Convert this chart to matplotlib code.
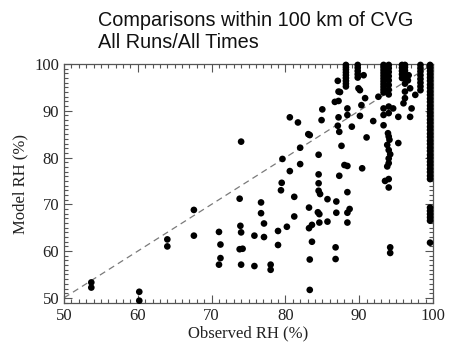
import matplotlib
matplotlib.use("Agg")
import matplotlib.pyplot as plt
from matplotlib.ticker import MultipleLocator

# Observed RH (%) and Model RH (%) comparison points
obs_scatter = [53.7, 53.7, 60.2, 60.2, 64.0, 64.0, 67.6, 67.6,
               71.0, 71.2, 71.2, 71.0, 73.8, 73.9, 74.0, 73.8, 74.2, 74.0, 74.0,
               75.8, 75.8, 76.7, 76.7, 77.1, 77.1, 78.0, 78.0, 79.0, 79.0,
               79.5, 79.4, 79.6, 80.2, 80.6, 80.6, 81.2, 81.2, 81.7, 82.0, 82.0,
               83.1, 83.3, 83.2, 83.2, 83.6, 83.6, 83.3, 83.3,
               84.4, 84.6, 84.6, 84.5, 84.5, 84.5, 84.5, 84.7, 84.9, 85.0,
               85.7, 85.7, 86.7, 87.2, 87.2, 87.4, 87.1, 87.2, 87.1, 87.3,
               86.9, 86.9, 86.8, 86.8, 87.6, 87.3, 88.0, 88.4, 88.4, 88.4, 89.0,
               88.4, 88.4, 88.7, 88.4,
               90.6, 89.9, 90.1, 90.8, 90.3, 90.1, 90.4, 91.0, 91.9, 92.6,
               93.3, 93.3, 93.3, 94.0, 94.0, 94.6, 95.3,
               93.9, 94.0, 94.1, 93.8, 94.0, 94.2, 94.0, 94.0, 93.8,
               95.3, 93.5, 94.0, 94.0, 94.2, 94.2,
               96.2, 96.2, 96.0, 96.9, 97.1, 96.9, 97.6, 96.7, 96.6]
mod_scatter = [53.3, 52.2, 51.3, 49.4, 62.5, 61.0, 68.8, 63.3,
               64.1, 61.4, 58.5, 57.1, 71.2, 65.4, 64.0, 60.4, 60.5, 57.1, 83.4,
               63.3, 56.8, 70.4, 68.1, 65.9, 63.0, 57.1, 56.0, 64.3, 61.3,
               74.6, 73.0, 79.7, 65.2, 88.6, 77.1, 71.6, 67.4, 87.5, 82.1, 78.6,
               85.0, 84.8, 69.3, 64.9, 65.6, 62.0, 58.2, 51.7,
               68.3, 67.9, 66.1, 80.6, 76.4, 74.5, 72.9, 72.2, 88.0, 90.3,
               71.1, 66.3, 91.9, 92.1, 94.1, 94.0, 96.4, 88.6, 86.8, 85.5,
               70.6, 68.2, 60.8, 58.3, 82.5, 76.1, 78.4, 78.2, 90.5, 89.1, 86.6,
               72.6, 68.2, 69.0, 66.1,
               97.6, 94.8, 94.4, 92.7, 91.2, 88.9, 77.7, 84.3, 87.8, 93.0,
               90.5, 89.1, 86.9, 90.9, 89.5, 90.5, 88.7,
               85.2, 84.5, 83.8, 82.7, 81.6, 80.7, 79.8, 78.8, 78.1,
               83.1, 75.0, 75.4, 73.6, 60.8, 59.6,
               94.1, 92.7, 91.6, 94.8, 90.5, 88.7, 93.4, 97.6, 96.5]

# Dense columns near saturation
obs_col_88 = [88.2, 88.2, 88.2, 88.2, 88.2, 88.2, 88.2, 88.2, 88.2]
mod_col_88 = [99.8, 99.3, 98.8, 98.2, 97.6, 97.0, 96.4, 95.8, 95.2]
obs_col_90 = [89.8, 89.8, 89.8, 89.8, 89.8]
mod_col_90 = [99.8, 99.2, 98.5, 97.8, 97.1]
obs_col_93 = [93.3] * 11 + [94.0] * 8
mod_col_93 = [99.8, 99.3, 98.7, 98.1, 97.5, 96.9, 96.3, 95.7, 95.1, 94.5, 93.9,
              99.8, 99.1, 98.3, 97.4, 96.5, 95.5, 94.5, 93.5]
obs_col_96 = [95.8] * 5 + [96.2] * 6
mod_col_96 = [99.8, 99.2, 98.5, 97.8, 97.0, 99.8, 99.3, 98.6, 97.8, 96.9, 95.8]
obs_col_98 = [98.3] * 8
mod_col_98 = [99.8, 99.1, 98.4, 97.6, 96.8, 96.0, 95.2, 94.4]
obs_col_100 = [99.6] * 40
mod_col_100 = [99.8, 99.2, 98.5, 97.8, 97.1, 96.4, 95.6, 94.9, 94.1, 93.4,
               92.6, 91.9, 91.1, 90.4, 89.6, 88.9, 88.1, 87.4, 86.6, 85.9,
               85.1, 84.4, 83.6, 82.9, 82.1, 81.4, 80.6, 79.9, 79.1, 78.4,
               77.6, 76.9, 76.1, 75.4, 69.3, 68.6, 67.9, 67.2, 66.5, 61.8]

obs = (obs_scatter + obs_col_88 + obs_col_90 + obs_col_93 + obs_col_96
       + obs_col_98 + obs_col_100)
mod = (mod_scatter + mod_col_88 + mod_col_90 + mod_col_93 + mod_col_96
       + mod_col_98 + mod_col_100)

one_to_one = [50, 100]

title_lines = ["Comparisons within 100 km of CVG", "All Runs/All Times"]
xlabel = "Observed RH (%)"
ylabel = "Model RH (%)"

W, H = 449, 350
fig = plt.figure(figsize=(W / 100, H / 100), dpi=100)
ax = fig.add_axes([64 / W, 1 - 303 / H, (433 - 64) / W, (303 - 64) / H])

ax.plot(one_to_one, one_to_one, linestyle=(0, (5, 3.5)), color="#7a7a7a",
        linewidth=0.9)
ax.scatter(obs, mod, s=23, color="black", edgecolors="none", clip_on=False,
           zorder=3)

ax.set_xlim(50, 100)
ax.set_ylim(48.9, 100)
ax.xaxis.set_major_locator(MultipleLocator(10))
ax.xaxis.set_minor_locator(MultipleLocator(1))
ax.yaxis.set_major_locator(MultipleLocator(10))
ax.yaxis.set_minor_locator(MultipleLocator(1))

axis_col = "#555555"
ax.tick_params(which="both", direction="in", top=True, right=True,
               color=axis_col, width=0.8)
ax.tick_params(which="major", length=6)
ax.tick_params(which="minor", length=3)
ax.tick_params(labelsize=12, labelcolor="#222222")
for lab in ax.get_xticklabels() + ax.get_yticklabels():
    lab.set_family("Liberation Serif")
for sp in ax.spines.values():
    sp.set_color(axis_col)
    sp.set_linewidth(0.9)

ax.set_xlabel(xlabel, family="Liberation Serif", fontsize=12, color="#222222",
              labelpad=1)
ax.set_ylabel(ylabel, family="Liberation Serif", fontsize=12, color="#222222",
              labelpad=4)

fig.text(98 / W, 1 - 20 / H, title_lines[0], family="Liberation Sans",
         fontsize=14.3, va="center", ha="left", color="#111111")
fig.text(98 / W, 1 - 43 / H, title_lines[1], family="Liberation Sans",
         fontsize=14.3, va="center", ha="left", color="#111111")

fig.savefig("out.png", dpi=100)
